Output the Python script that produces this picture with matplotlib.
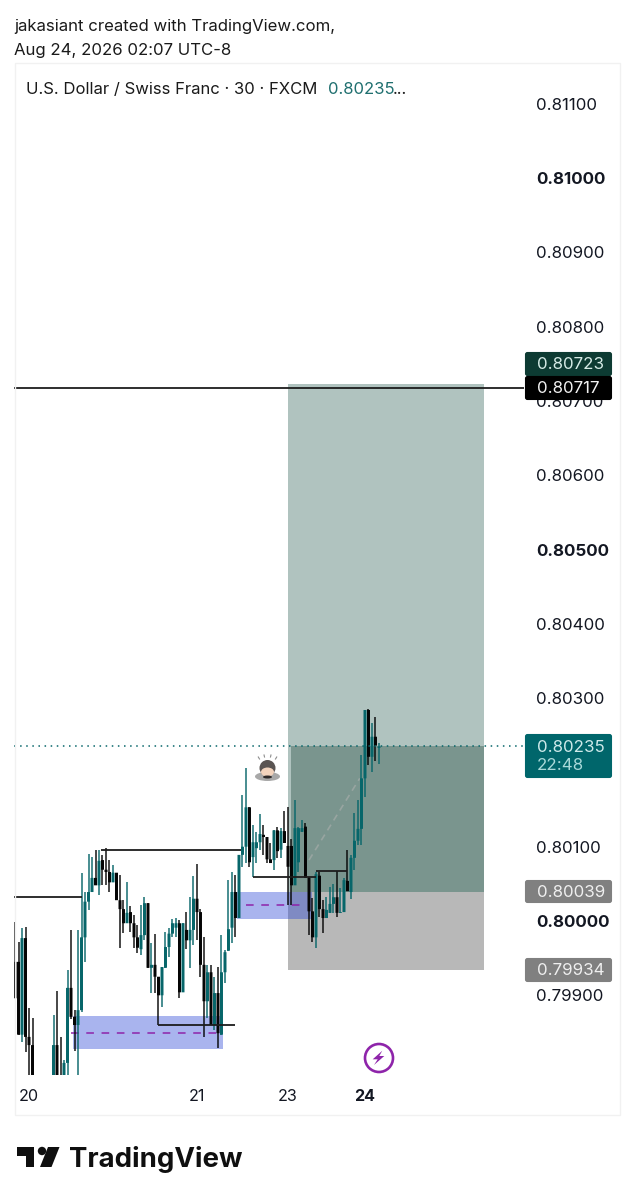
import numpy as np
import matplotlib
matplotlib.use("Agg")
import matplotlib.pyplot as plt
from matplotlib.patches import Rectangle, Circle, Ellipse, Polygon, FancyBboxPatch

plt.rcParams['font.family'] = ['Inter', 'DejaVu Sans']

nan = float('nan')

# candles, in 1e-5 of a price point above 0 (80000 = 0.80000); bars 6-10 sit below the pane
opens = [79945, 79945, 79847, 79977, 79844, 79833, nan, nan, nan, nan, nan, 79779, 79833, 79785, 79779, 79809,
         79910, 79871, 79860, 79880, 79978, 80026, 80039, 80058, 80048, 80082, 80069, 80066, 80052, 80065, 80028,
         80016, 79997, 80012, 79997, 79978, 79962, 79981, 80024, 79937, 79941, 79925, 79900, 79937, 79965, 79983,
         79991, 79997, 79904, 79988, 79974, 79988, 80030, 80012, 79941, 79892, 79931, 79860, 79903, 79847, 79931,
         79960, 79991, 80039, 80004, 80089, 80100, 80153, 80086, 80098, 80106, 80116, 80113, 80083, 80082, 80122,
         80096, 80121, 80101, 80101, 80048, 80079, 80120, 80127, 80058, 80013, 79978, 80061, 80016, 80004, 80011,
         80023, 80032, 80011, 80012, 80054, 80039, 80085, 80108, 80124, 80192, 80284, 80221, 80248, 80233]
highs = [79999, 79972, 79991, 79992, 79883, 79869, nan, nan, nan, nan, nan, 79873, 79906, 79844, 79813, 79934,
         79988, 79880, 79988, 80065, 80039, 80090, 80086, 80096, 80096, 80089, 80098, 80082, 80075, 80065, 80062,
         80028, 80052, 80020, 80008, 79995, 80022, 80032, 80024, 79970, 79983, 79925, 79938, 79985, 79991, 80003,
         80004, 80001, 79997, 80012, 80032, 80061, 80077, 80016, 79978, 79941, 79941, 79925, 79938, 79981, 79961,
         80055, 80066, 80062, 80089, 80170, 80206, 80153, 80129, 80120, 80144, 80129, 80113, 80105, 80122, 80127,
         80125, 80148, 80153, 80110, 80163, 80127, 80136, 80132, 80059, 80031, 80066, 80066, 80028, 80032, 80046,
         80050, 80067, 80044, 80058, 80096, 80089, 80145, 80163, 80223, 80284, 80285, 80267, 80275, 80240]
lows = [79896, 79847, 79837, 79824, 79786, 79773, nan, nan, nan, nan, nan, 79773, 79770, 79770, 79770, 79793,
        79868, 79825, 79793, 79878, 79945, 80015, 80039, 80048, 80035, 80048, 80048, 80039, 80052, 80028, 79964,
        79984, 79997, 79985, 79964, 79957, 79954, 79974, 79937, 79903, 79903, 79860, 79884, 79937, 79952, 79978,
        79978, 79896, 79904, 79962, 79937, 79968, 79974, 79925, 79844, 79869, 79860, 79853, 79829, 79847, 79917,
        79960, 79970, 79978, 80004, 80073, 80078, 80073, 80059, 80078, 80096, 80089, 80078, 80078, 80069, 80085,
        80085, 80105, 80022, 80022, 80048, 80066, 80120, 80058, 79981, 79972, 79964, 80005, 79984, 80004, 80011,
        80011, 80005, 80011, 80012, 80040, 80030, 80069, 80102, 80102, 80167, 80210, 80201, 80215, 80211]
closes = [79896, 79847, 79977, 79844, 79833, 79779, nan, nan, nan, nan, nan, 79833, 79779, 79775, 79809, 79910,
          79871, 79860, 79880, 79978, 80026, 80039, 80058, 80048, 80081, 80069, 80066, 80052, 80065, 80028, 80016,
          79997, 80011, 79997, 79978, 79964, 79981, 80024, 79937, 79941, 79925, 79900, 79938, 79965, 79983, 79997,
          79997, 79904, 79997, 79974, 79988, 80030, 80012, 79941, 79892, 79931, 79860, 79903, 79849, 79931, 79958,
          79989, 80039, 80004, 80089, 80100, 80153, 80079, 80106, 80106, 80117, 80113, 80083, 80078, 80122, 80094,
          80121, 80105, 80073, 80048, 80125, 80125, 80125, 80058, 80013, 79978, 80063, 80016, 80004, 80015, 80023,
          80032, 80011, 80012, 80055, 80040, 80085, 80108, 80124, 80192, 80284, 80221, 80248, 80236, 80235]

price_ticks = [0.81100, 0.81000, 0.80900, 0.80800, 0.80700, 0.80600, 0.80500, 0.80400,
               0.80300, 0.80200, 0.80100, 0.80000, 0.79900]
price_labels = ['0.81100', '0.81000', '0.80900', '0.80800', '0.80700', '0.80600', '0.80500', '0.80400',
                '0.80300', '0.80200', '0.80100', '0.80000', '0.79900']
bold_labels = ['0.81000', '0.80500', '0.80000']
time_bars = [4, 52, 78, 100]
time_labels = ['20', '21', '23', '24']

last_price = 0.80235
target_price = 0.80717
target_axis = 0.80723
entry_price = 0.80039
stop_price = 0.79934

TEAL = '#07666a'
W, H = 634, 1200

fig = plt.figure(figsize=(W / 100, H / 100), dpi=100, facecolor='white')
ax = fig.add_axes([14 / W, (H - 1075) / H, 510 / W, 1012 / H])
ax.set_xlim(-0.286, 145.43)
ax.set_ylim(0.8 - 154 / 74300, 0.8 + 858 / 74300)

o = np.array(opens) / 1e5
h = np.array(highs) / 1e5
l = np.array(lows) / 1e5
c = np.array(closes) / 1e5
x = np.arange(len(o))
colors = [TEAL if a >= b else '#050505' for a, b in zip(c, o)]

# position tool, three stacked parts
ax.add_patch(Rectangle((78, last_price), 56, target_price + 0.00006 - last_price, fc='#0f4a3e', alpha=0.33, lw=0, zorder=1))
ax.add_patch(Rectangle((78, entry_price), 56, last_price - entry_price, fc='#0f4a3e', alpha=0.33, lw=0, zorder=1))
ax.add_patch(Rectangle((78.8, entry_price), 55.2, last_price - entry_price, fc='#0d3a2b', alpha=0.33, lw=0, zorder=1))
ax.add_patch(Rectangle((78, stop_price), 56, entry_price - stop_price, fc='black', alpha=0.28, lw=0, zorder=1))

# fair value gaps
ax.add_patch(Rectangle((16.6, 0.79828), 42.8, 0.00044, color='#2a45d6', alpha=0.4, lw=0, zorder=2))
ax.add_patch(Rectangle((63.4, 0.80003), 21.5, 0.00036, color='#2a45d6', alpha=0.4, lw=0, zorder=2))
ax.hlines(0.79849, 16, 59, color='#8e24aa', lw=1.1, linestyles=(0, (5, 5)), zorder=3)
ax.hlines(0.80021, 66, 83, color='#8e24aa', lw=1.1, linestyles=(0, (5, 5)), zorder=3)

# diagonal path
ax.plot([84, 98.5], [0.80082, 0.80192], color='#98a5a1', lw=1.2, ls=(0, (4, 3)), zorder=3)

# candles
ax.vlines(x, l, h, colors=colors, lw=1.15, zorder=4, alpha=0.9)
bars = ax.bar(x, np.abs(c - o), bottom=np.minimum(o, c), width=0.85, color=colors, lw=0, zorder=5)
for b in bars:
    b.set_snap(False)

# structure lines
ax.hlines(0.80032, -0.3, 19, color='#1c1c1c', lw=1.3, zorder=6)
ax.hlines(0.80096, 24.5, 64.5, color='#1c1c1c', lw=1.3, zorder=6)
ax.hlines(0.79860, 41, 63, color='#1c1c1c', lw=1.3, zorder=6)
ax.hlines(0.80059, 68, 86, color='#1c1c1c', lw=1.3, zorder=6)
ax.hlines(0.80067, 86, 95, color='#1c1c1c', lw=1.3, zorder=6)
ax.hlines(target_price, -0.3, 145.5, color='#1c1c1c', lw=1.3, zorder=6)
ax.hlines(last_price, -0.3, 145.5, color=TEAL, lw=1.1, linestyles=(0, (1, 3)), zorder=6)

for s in ax.spines.values():
    s.set_visible(False)
ax.yaxis.tick_right()
ax.set_yticks(price_ticks)
ax.set_yticklabels(price_labels, fontsize=12.2, color='#131722')
ax.set_xticks(time_bars)
ax.set_xticklabels(time_labels, fontsize=11.6, color='#131722')
ax.tick_params(axis='y', length=0, pad=8.6)
ax.tick_params(axis='x', length=0, pad=10)
for t in ax.get_yticklabels():
    if t.get_text() in bold_labels:
        t.set_fontweight('bold')
ax.get_xticklabels()[-1].set_fontweight('bold')

# overlay in pixels for the chrome around the chart
ov = fig.add_axes([0, 0, 1, 1], facecolor='none')
ov.set_xlim(0, W)
ov.set_ylim(H, 0)
ov.axis('off')

ov.add_patch(Rectangle((14.5, 62.5), 605, 1052, fill=False, ec='#f1f1f1', lw=1))

ov.text(14, 27, 'jakasiant created with TradingView.com,', fontsize=12.05, color='#1a1a1a', va='center')
ov.text(14, 50, 'Aug 24, 2026 02:07 UTC-8', fontsize=12.05, color='#1a1a1a', va='center')
ov.text(26, 89, 'U.S. Dollar / Swiss Franc · 30 · FXCM', fontsize=12, color='#1a1a1a', va='center')
ov.text(328, 89, '0.80235', fontsize=12, color='#1f6f6f', va='center')
ov.text(393, 89, '...', fontsize=12, color='#1a1a1a', va='center')


def badge(y0, y1, color, lines):
    ov.add_patch(FancyBboxPatch((526, y0 + 1), 85, y1 - y0 - 2, boxstyle='round,pad=0,rounding_size=1.5',
                                fc=color, ec=color, lw=1.5, zorder=5))
    for txt, yc, col in lines:
        ov.text(536.5, yc, txt, fontsize=12.2, color=col, va='center', zorder=6)


badge(352, 376, '#0d3b33', [('%.5f' % target_axis, 364.5, '#d5ebe6')])
badge(376, 400, '#000000', [('%.5f' % target_price, 388.5, '#f2f2f2')])
badge(734, 778, '#00666b', [('%.5f' % last_price, 747, '#cfeaea'), ('22:48', 766, '#a9d9d9')])
badge(880, 903, '#808080', [('%.5f' % entry_price, 892.5, '#efefef')])
badge(958, 982, '#808080', [('%.5f' % stop_price, 970.5, '#efefef')])

# emoji drawn by hand, no installed font has it
ov.add_patch(Ellipse((267.5, 776.5), 25, 9, fc='#a8a8a8', ec='none'))
ov.add_patch(Circle((267.5, 768), 8, fc='#5a5452', ec='none'))
ov.add_patch(Ellipse((267.5, 772), 13, 9, fc='#f2d3bd', ec='none'))
ov.add_patch(Ellipse((267.5, 777), 9, 3, fc='#2e2a2a', ec='none'))
for dx, dy in [(-8, -2), (-3, -4), (3, -4), (8, -2)]:
    ov.plot([267.5 + dx, 267.5 + dx * 1.15], [761 + dy, 759 + dy], color='#8c8c8c', lw=0.8)

# bolt marker
ov.add_patch(Circle((379, 1058), 14, fill=False, ec='#8e24aa', lw=1.9))
ov.add_patch(Polygon([(382.3, 1050.7), (372.7, 1059.3), (377.7, 1059.3), (374, 1065), (384.3, 1056), (379.3, 1056)],
                     fc='#8e24aa', ec='none'))

# logo
ov.add_patch(Polygon([(17, 1147), (34, 1147), (34, 1167), (26, 1167), (26, 1156), (17, 1156)], fc='#0f0f0f', ec='none'))
ov.add_patch(Circle((42, 1151), 4.2, fc='#0f0f0f', ec='none'))
ov.add_patch(Polygon([(48, 1147), (59.5, 1147), (51.5, 1167), (40, 1167)], fc='#0f0f0f', ec='none'))
ov.text(68.5, 1167, 'TradingView', fontsize=19.9, fontweight='bold', color='#0f0f0f', va='baseline')

fig.savefig('out.png', dpi=100)
